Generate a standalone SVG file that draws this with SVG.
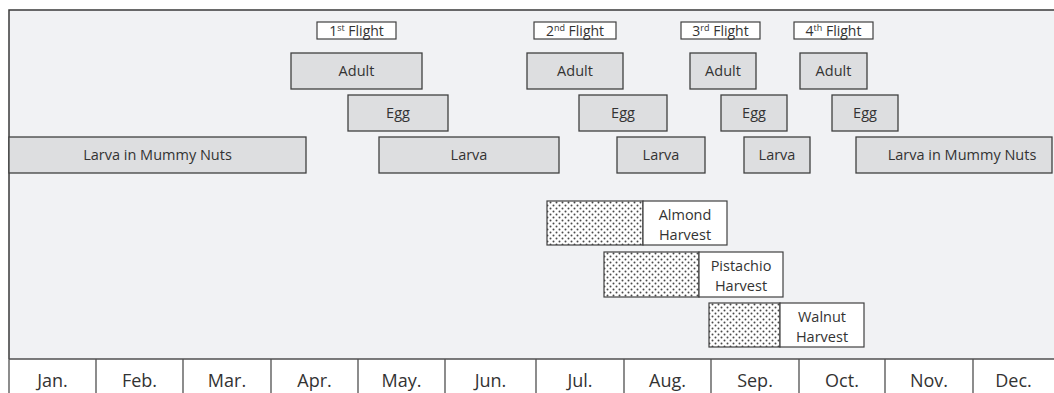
<svg xmlns="http://www.w3.org/2000/svg" width="1054" height="393" viewBox="0 0 1054 393">
<style>
.bg{fill:#f1f2f4;stroke:none}
.frame{fill:none;stroke:#3a3a3a;stroke-width:1.5}
.bar{fill:#dddee0;stroke:#404040;stroke-width:1.3}
.fl{fill:#ffffff;stroke:#404040;stroke-width:1.2}
.hv{fill:#ffffff;stroke:#404040;stroke-width:1.2}
.dot{fill:url(#dots);stroke:#404040;stroke-width:1.2}
text{font-family:"Open Sans","Liberation Sans",sans-serif;fill:#333333;text-anchor:middle}
.t{font-size:14.5px}
.f{font-size:14px}
.h{font-size:14.5px}
.m{font-size:18px}
.sup{font-size:9px}
.axis{stroke:#505050;stroke-width:1.3;fill:none}
</style>
<defs>
<pattern id="dots" width="6" height="6" patternUnits="userSpaceOnUse">
<rect width="6" height="6" fill="#ffffff"/>
<circle cx="1.5" cy="1.5" r="1" fill="#4a4a4a"/>
<circle cx="4.5" cy="4.5" r="1" fill="#4a4a4a"/>
</pattern>
</defs>
<rect x="0" y="0" width="1054" height="393" fill="#ffffff"/>
<rect class="bg" x="9" y="10" width="1045" height="349"/>
<path class="frame" d="M9,359 V10 H1054"/>

<g id="flight1"><rect class="fl" x="317" y="22" width="79" height="17"/><text class="f" x="356.5" y="36">1<tspan class="sup" dy="-5">st</tspan><tspan dy="5"> Flight</tspan></text></g>
<g id="flight2"><rect class="fl" x="534" y="22" width="82" height="17"/><text class="f" x="575" y="36">2<tspan class="sup" dy="-5">nd</tspan><tspan dy="5"> Flight</tspan></text></g>
<g id="flight3"><rect class="fl" x="681" y="22" width="79" height="17"/><text class="f" x="720.5" y="36">3<tspan class="sup" dy="-5">rd</tspan><tspan dy="5"> Flight</tspan></text></g>
<g id="flight4"><rect class="fl" x="794" y="22" width="79" height="17"/><text class="f" x="833.5" y="36">4<tspan class="sup" dy="-5">th</tspan><tspan dy="5"> Flight</tspan></text></g>

<g id="adult1"><rect class="bar" x="291" y="53" width="131" height="36"/><text class="t" x="356.5" y="76">Adult</text></g>
<g id="adult2"><rect class="bar" x="527" y="53" width="96" height="36"/><text class="t" x="575" y="76">Adult</text></g>
<g id="adult3"><rect class="bar" x="690" y="53" width="66" height="36"/><text class="t" x="723" y="76">Adult</text></g>
<g id="adult4"><rect class="bar" x="800" y="53" width="67" height="36"/><text class="t" x="833.5" y="76">Adult</text></g>

<g id="egg1"><rect class="bar" x="348" y="95" width="100" height="36"/><text class="t" x="398" y="118">Egg</text></g>
<g id="egg2"><rect class="bar" x="579" y="95" width="88" height="36"/><text class="t" x="623" y="118">Egg</text></g>
<g id="egg3"><rect class="bar" x="721" y="95" width="66" height="36"/><text class="t" x="754" y="118">Egg</text></g>
<g id="egg4"><rect class="bar" x="832" y="95" width="66" height="36"/><text class="t" x="865" y="118">Egg</text></g>

<g id="larva-mummy1"><rect class="bar" x="9" y="137" width="297" height="36"/><text class="t" x="157.5" y="160">Larva in Mummy Nuts</text></g>
<g id="larva1"><rect class="bar" x="379" y="137" width="180" height="36"/><text class="t" x="469" y="160">Larva</text></g>
<g id="larva2"><rect class="bar" x="617" y="137" width="88" height="36"/><text class="t" x="661" y="160">Larva</text></g>
<g id="larva3"><rect class="bar" x="744" y="137" width="66" height="36"/><text class="t" x="777" y="160">Larva</text></g>
<g id="larva-mummy2"><rect class="bar" x="856" y="137" width="196" height="36"/><text class="t" x="962" y="160">Larva in Mummy Nuts</text></g>

<g id="almond"><rect class="dot" x="547" y="201" width="96" height="44"/><rect class="hv" x="643" y="201" width="84" height="44"/><text class="h" x="685" y="220">Almond</text><text class="h" x="685" y="240">Harvest</text></g>
<g id="pistachio"><rect class="dot" x="604" y="252" width="95" height="45"/><rect class="hv" x="699" y="252" width="84" height="45"/><text class="h" x="741" y="271">Pistachio</text><text class="h" x="741" y="291">Harvest</text></g>
<g id="walnut"><rect class="dot" x="709" y="303" width="71" height="44"/><rect class="hv" x="780" y="303" width="84" height="44"/><text class="h" x="822" y="322">Walnut</text><text class="h" x="822" y="342">Harvest</text></g>

<g id="axis">
<path class="axis" d="M9,359 H1054 M9,359 V393 M96,359 V393 M183,359 V393 M271,359 V393 M358,359 V393 M445,359 V393 M536,359 V393 M624,359 V393 M711,359 V393 M799,359 V393 M885,359 V393 M973,359 V393"/>
<text class="m" x="52.5" y="387">Jan.</text>
<text class="m" x="139.5" y="387">Feb.</text>
<text class="m" x="227" y="387">Mar.</text>
<text class="m" x="314.5" y="387">Apr.</text>
<text class="m" x="401.5" y="387">May.</text>
<text class="m" x="490.5" y="387">Jun.</text>
<text class="m" x="580" y="387">Jul.</text>
<text class="m" x="667.5" y="387">Aug.</text>
<text class="m" x="755" y="387">Sep.</text>
<text class="m" x="842" y="387">Oct.</text>
<text class="m" x="929" y="387">Nov.</text>
<text class="m" x="1013.5" y="387">Dec.</text>
</g>
</svg>
